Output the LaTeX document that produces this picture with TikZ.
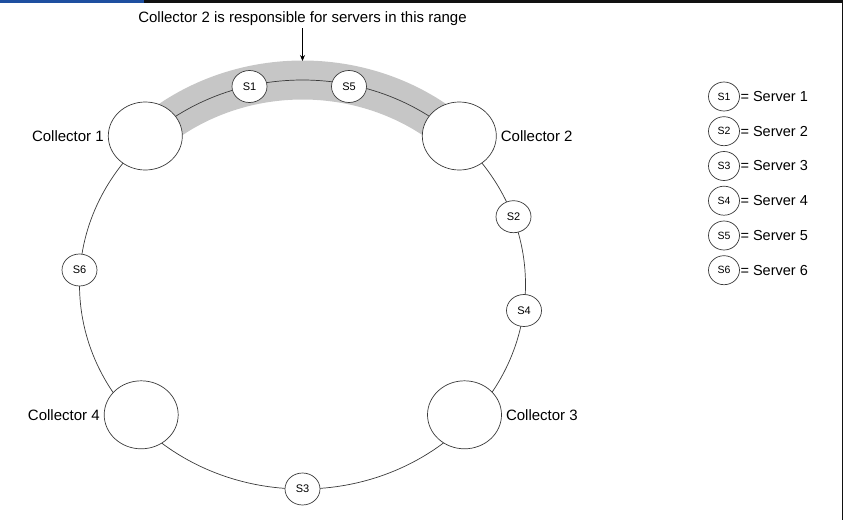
\documentclass[tikz,border=0pt]{standalone}
\usepackage{fontspec}
\setmainfont{Liberation Sans}
\usetikzlibrary{arrows.meta,shapes.geometric}
\definecolor{bandgray}{HTML}{C6C6C6}
\definecolor{linegray}{HTML}{3A3A3A}
\definecolor{topblue}{HTML}{1E4FA0}
\definecolor{topblack}{HTML}{111111}
\begin{document}
\begin{tikzpicture}[x=1pt,y=-1pt,
  collector/.style={ellipse, minimum width=74pt, minimum height=68pt, inner sep=0pt,
    draw=linegray, fill=white, line width=0.7pt},
  server/.style={ellipse, minimum width=35pt, minimum height=32pt, inner sep=0pt,
    draw=linegray, fill=white, line width=0.7pt, font=\fontsize{11}{13}\selectfont},
  legendsrv/.style={ellipse, minimum width=31pt, minimum height=29pt, inner sep=0pt,
    draw=linegray, fill=white, line width=0.7pt, font=\fontsize{10.5}{12}\selectfont},
  lbl/.style={inner sep=0pt, font=\fontsize{15}{18}\selectfont},
  legendtxt/.style={inner sep=0pt, anchor=west, font=\fontsize{14.5}{17}\selectfont},
  ring/.style={draw=linegray, line width=0.7pt}
]
\useasboundingbox (0,0) rectangle (843,520);
% frame bits
\fill[topblack] (144,0) rectangle (843,2.5);
\fill[topblue] (0,0) rectangle (144,2.5);
\fill[topblack] (841.5,0) rectangle (843,520);

% shaded range
\draw[bandgray, line width=39pt] plot[domain=45:135, samples=80]
  ({302.5+223*cos(\x)}, {284.5-204.5*sin(\x)});
% ring
\draw[ring] (302.5,284.5) ellipse [x radius=223, y radius=204.5];

% collectors
\node[collector] (c1) at (145.3,136) {};
\node[collector] (c2) at (459.3,136) {};
\node[collector] (c3) at (464.5,414.8) {};
\node[collector] (c4) at (141.2,414.8) {};
\node[lbl, anchor=east] (lc1) at ([xshift=-4pt]c1.west) {Collector 1};
\node[lbl, anchor=west] (lc2) at ([xshift=4pt]c2.east) {Collector 2};
\node[lbl, anchor=west] (lc3) at ([xshift=4pt]c3.east) {Collector 3};
\node[lbl, anchor=east] (lc4) at ([xshift=-4pt]c4.west) {Collector 4};

% servers on ring
\node[server] (s1) at (249.5,86.5) {S1};
\node[server] (s5) at (349,86.5) {S5};
\node[server] (s2) at (513.5,216.7) {S2};
\node[server] (s4) at (524,310.5) {S4};
\node[server] (s3) at (302.5,489) {S3};
\node[server] (s6) at (79.5,270) {S6};

% title and arrow
\node[lbl] (title) at (302.5,19) {Collector 2 is responsible for servers in this range};
\coordinate (bandtop) at (302.5,61);
\draw[-{Stealth[length=6pt,width=5pt]}, line width=0.7pt, shorten <=2pt] (title.south) -- (bandtop);

% legend
\foreach \i/\y in {1/96.5,2/131.2,3/166,4/200.7,5/235.5,6/270.2}{
  \node[legendsrv] (l\i) at (724,\y) {S\i};
  \node[legendtxt] (t\i) at ([xshift=0.5pt]l\i.east) {= Server \i};
}
\end{tikzpicture}
\end{document}
